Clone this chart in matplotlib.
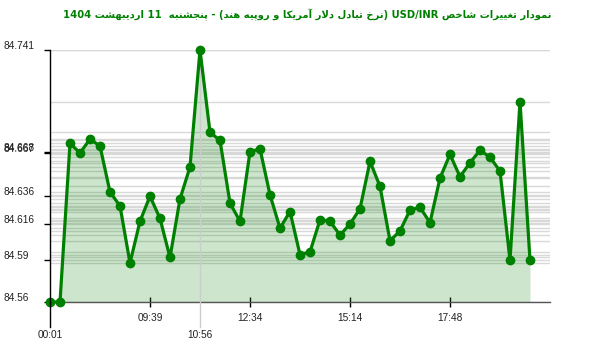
import matplotlib
matplotlib.use("Agg")
import matplotlib.pyplot as plt
from matplotlib.transforms import blended_transform_factory, ScaledTranslation
import re

# ---------------- data ----------------
values = [84.56, 84.56, 84.674, 84.667, 84.677, 84.672, 84.639, 84.629, 84.588, 84.618,
          84.636, 84.620, 84.592, 84.634, 84.657, 84.741, 84.682, 84.676, 84.631, 84.618,
          84.668, 84.670, 84.637, 84.613, 84.625, 84.594, 84.596, 84.619, 84.618, 84.608,
          84.616, 84.627, 84.661, 84.643, 84.604, 84.611, 84.626, 84.628, 84.617, 84.649,
          84.666, 84.650, 84.660, 84.669, 84.664, 84.654, 84.59, 84.704, 84.59]
xtick_idx = [0, 10, 15, 20, 30, 40]
xtick_labels = ["00:01", "09:39", "10:56", "12:34", "15:14", "17:48"]
long_ticks = ["00:01", "10:56"]
ytick_values = [84.741, 84.668, 84.667, 84.636, 84.616, 84.59, 84.56]
ytick_labels = ["84.741", "84.668", "84.667", "84.636", "84.616", "84.59", "84.56"]
title_text = "نمودار تغییرات شاخص USD/INR (نرخ تبادل دلار آمریکا و روپیه هند) - پنجشنبه  11 اردیبهشت 1404"

# ------------- minimal Arabic/Persian shaping + bidi -------------
FORMS = {  # isolated, final, initial, medial
    '\u0627': ('\uFE8D', '\uFE8E', None, None),
    '\u0622': ('\uFE81', '\uFE82', None, None),
    '\u0628': ('\uFE8F', '\uFE90', '\uFE91', '\uFE92'),
    '\u067E': ('\uFB56', '\uFB57', '\uFB58', '\uFB59'),
    '\u062A': ('\uFE95', '\uFE96', '\uFE97', '\uFE98'),
    '\u062C': ('\uFE9D', '\uFE9E', '\uFE9F', '\uFEA0'),
    '\u0686': ('\uFB7A', '\uFB7B', '\uFB7C', '\uFB7D'),
    '\u062E': ('\uFEA5', '\uFEA6', '\uFEA7', '\uFEA8'),
    '\u062F': ('\uFEA9', '\uFEAA', None, None),
    '\u0631': ('\uFEAD', '\uFEAE', None, None),
    '\u0634': ('\uFEB5', '\uFEB6', '\uFEB7', '\uFEB8'),
    '\u0635': ('\uFEB9', '\uFEBA', '\uFEBB', '\uFEBC'),
    '\u063A': ('\uFECD', '\uFECE', '\uFECF', '\uFED0'),
    '\u06A9': ('\uFB8E', '\uFB8F', '\uFB90', '\uFB91'),
    '\u0644': ('\uFEDD', '\uFEDE', '\uFEDF', '\uFEE0'),
    '\u0645': ('\uFEE1', '\uFEE2', '\uFEE3', '\uFEE4'),
    '\u0646': ('\uFEE5', '\uFEE6', '\uFEE7', '\uFEE8'),
    '\u0647': ('\uFEE9', '\uFEEA', '\uFEEB', '\uFEEC'),
    '\u0648': ('\uFEED', '\uFEEE', None, None),
    '\u06CC': ('\uFBFC', '\uFBFD', '\uFBFE', '\uFBFF'),
}
LAMALEF = {'\u0627': ('\uFEFB', '\uFEFC'), '\u0622': ('\uFEF5', '\uFEF6')}


def dual(c):
    return c in FORMS and FORMS[c][2] is not None


def shape(s):
    out = []
    i = 0
    n = len(s)
    while i < n:
        c = s[i]
        if c not in FORMS:
            out.append(c)
            i += 1
            continue
        prev = s[i - 1] if i > 0 else ''
        joins_prev = dual(prev)
        if c == '\u0644' and i + 1 < n and s[i + 1] in LAMALEF:
            out.append(LAMALEF[s[i + 1]][1 if joins_prev else 0])
            i += 2
            continue
        nxt = s[i + 1] if i + 1 < n else ''
        joins_next = dual(c) and nxt in FORMS
        iso, fin, ini, med = FORMS[c]
        if joins_prev and joins_next:
            out.append(med)
        elif joins_prev:
            out.append(fin)
        elif joins_next:
            out.append(ini)
        else:
            out.append(iso)
        i += 1
    return ''.join(out)


def visual(s):
    r = shape(s)[::-1]
    mirror = {'(': ')', ')': '('}
    pieces = []
    pos = 0
    for m in re.finditer(r'[A-Za-z0-9/.]+', r):
        pieces.append(''.join(mirror.get(ch, ch) for ch in r[pos:m.start()]))
        pieces.append(m.group(0)[::-1])
        pos = m.end()
    pieces.append(''.join(mirror.get(ch, ch) for ch in r[pos:]))
    return ''.join(pieces)


# ---------------- figure ----------------
W, H = 600, 352
fig = plt.figure(figsize=(W / 100, H / 100), dpi=100)
ax = fig.add_axes([50 / W, 50 / H, 500 / W, 252 / H])
x = list(range(len(values)))

ymin, ymax = 84.56, 84.741
ax.set_xlim(0, 50)
ax.set_ylim(ymin, ymax)

# horizontal gridlines at each data value
for v in sorted(set(values)):
    ax.axhline(v, color='#d9d9d9', lw=1, zorder=1)
ax.axhline(ymax, color='#d9d9d9', lw=1, zorder=1)

ax.fill_between(x, values, ymin, color='#008000', alpha=0.2, lw=0, zorder=2)
ax.plot(x, values, color='#008000', lw=2.3, marker='o', markersize=6,
        markerfacecolor='#008000', markeredgecolor='#008000', zorder=4, clip_on=False)

# spines
for s in ['top', 'right']:
    ax.spines[s].set_visible(False)
ax.spines['bottom'].set_color('#555555')
ax.spines['bottom'].set_linewidth(1)
ax.spines['left'].set_color('black')
ax.spines['left'].set_linewidth(1)
ax.spines['left'].set_zorder(5)

LBL_FONT = dict(fontsize=7.3, color='#222222', family='Liberation Sans')

# y ticks
ax.set_yticks(ytick_values)
ax.set_yticklabels([])
ax.tick_params(axis='y', length=4, width=1, color='black', direction='out')
ytr = blended_transform_factory(fig.transFigure, ax.transData) + ScaledTranslation(0, 4 / 100, fig.dpi_scale_trans)
for v, lab in zip(ytick_values, ytick_labels):
    ax.text(3 / W, v, lab, transform=ytr, ha='left', va='center', **LBL_FONT)

# x ticks
ax.set_xticks([i for i, l in zip(xtick_idx, xtick_labels) if l not in long_ticks])
ax.set_xticklabels([])
ax.tick_params(axis='x', length=7, width=1, color='black', direction='inout')
xtr = blended_transform_factory(ax.transData, fig.transFigure)
for i, lab in zip(xtick_idx, xtick_labels):
    if lab in long_ticks:
        col = 'black' if i == 0 else '#cccccc'
        top = 50 if i != 0 else 302
        ax.plot([i, i], [1 - top / H, 1 - 327 / H], transform=xtr, color=col, lw=1,
                clip_on=False, zorder=3 if i else 5)
        ax.text(i, 1 - 335 / H, lab, transform=xtr, ha='center', va='center', **LBL_FONT)
    else:
        ax.text(i, 1 - 318 / H, lab, transform=xtr, ha='center', va='center', **LBL_FONT)

fig.text(307 / W, 1 - 15 / H, visual(title_text), ha='center', va='center', fontsize=7.2,
         fontweight='bold', color='#008000', family=['DejaVu Sans'])

fig.savefig('out.png', dpi=100)
